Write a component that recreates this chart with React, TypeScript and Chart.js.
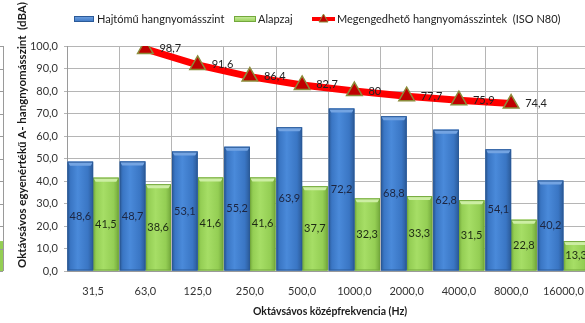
import React, { useEffect, useRef } from 'react';
import { Chart, registerables } from 'chart.js';

Chart.register(...registerables);

// Octave-band centre frequencies (Hz)
const frequencies = ['31,5', '63,0', '125,0', '250,0', '500,0', '1000,0', '2000,0', '4000,0', '8000,0', '16000,0'];
// Drive sound pressure level per band (dBA)
const driveLevels = [48.6, 48.7, 53.1, 55.2, 63.9, 72.2, 68.8, 62.8, 54.1, 40.2];
// Background noise per band (dBA)
const backgroundLevels = [41.5, 38.6, 41.6, 41.6, 37.7, 32.3, 33.3, 31.5, 22.8, 13.3];
// Permitted levels, ISO N80 curve (dBA)
const permittedLevels = [null, 98.7, 91.6, 86.4, 82.7, 80, 77.7, 75.9, 74.4, null];
// Edge of the neighbouring chart on the left
const neighbourBarValue = 13.3;

const Y_MIN = 0;
const Y_MAX = 100;
const Y_STEP = 10;

const seriesNames = ['Hajtómű hangnyomásszint', 'Alapzaj', 'Megengedhető hangnyomásszintek  (ISO N80)'];
const yTitle = 'Oktávsávos egyenértékű A- hangnyomásszint  (dBA)';
const xTitle = 'Oktávsávos középfrekvencia (Hz)';

const FONT = 'Lato, "Open Sans", sans-serif';

const BLUE = { edge: '#2b5a98', mid: '#3a76c4', light: '#4a8ada', top: '#74a4e2', text: '#1c2540' };
const GREEN = { edge: '#73a83c', mid: '#94ce54', light: '#a6de66', top: '#cdeea4', text: '#1e2a14' };

const fmt = (v: number) => String(v).replace('.', ',');

const barShading = {
  id: 'barShading',
  afterDatasetDraw(chart: any, args: any) {
    const meta = args.meta;
    if (meta.type !== 'bar') return;
    const pal = meta.index === 0 ? BLUE : GREEN;
    const ctx = chart.ctx as CanvasRenderingContext2D;
    ctx.save();
    meta.data.forEach((el: any) => {
      const { x, y, base, width } = el.getProps(['x', 'y', 'base', 'width'], true);
      const l = x - width / 2;
      const r = x + width / 2;
      const g = ctx.createLinearGradient(l, 0, r, 0);
      g.addColorStop(0, pal.edge);
      g.addColorStop(0.12, pal.mid);
      g.addColorStop(0.4, pal.light);
      g.addColorStop(0.8, pal.mid);
      g.addColorStop(1, pal.edge);
      ctx.fillStyle = g;
      ctx.fillRect(l, y, width, base - y);
      ctx.fillStyle = pal.top;
      ctx.beginPath();
      ctx.moveTo(l, y);
      ctx.lineTo(r, y);
      ctx.lineTo(r - 2.5, y + 4);
      ctx.lineTo(l + 2.5, y + 4);
      ctx.closePath();
      ctx.fill();
      ctx.strokeStyle = pal.edge;
      ctx.lineWidth = 1;
      ctx.strokeRect(l + 0.5, y + 0.5, width - 1, base - y - 1);
    });
    ctx.restore();
  },
};

const valueLabels = {
  id: 'valueLabels',
  afterDatasetsDraw(chart: any) {
    const ctx = chart.ctx as CanvasRenderingContext2D;
    ctx.save();
    ctx.font = `11px ${FONT}`;
    chart.data.datasets.forEach((ds: any, di: number) => {
      const meta = chart.getDatasetMeta(di);
      meta.data.forEach((el: any, i: number) => {
        const v = ds.data[i];
        if (v == null) return;
        if (meta.type === 'bar') {
          const { x, y, base } = el.getProps(['x', 'y', 'base'], true);
          ctx.fillStyle = di === 0 ? BLUE.text : GREEN.text;
          ctx.textAlign = 'center';
          ctx.textBaseline = 'middle';
          ctx.fillText(fmt(v), x, (y + base) / 2);
        } else {
          const { x, y } = el.getProps(['x', 'y'], true);
          ctx.fillStyle = '#222222';
          ctx.textAlign = 'left';
          ctx.textBaseline = 'middle';
          ctx.fillText(fmt(v), x + 14, y);
        }
      });
    });
    ctx.restore();
  },
};

const decorations = {
  id: 'decorations',
  afterDraw(chart: any) {
    const ctx = chart.ctx as CanvasRenderingContext2D;
    const area = chart.chartArea;
    const yScale = chart.scales.y;
    ctx.save();

    // neighbouring chart edge
    ctx.fillStyle = GREEN.mid;
    const gTop = yScale.getPixelForValue(neighbourBarValue);
    ctx.fillRect(0, gTop, 3, area.bottom - gTop);
    ctx.strokeStyle = '#9a9a9a';
    ctx.lineWidth = 1;
    ctx.beginPath();
    ctx.moveTo(3.5, area.top);
    ctx.lineTo(3.5, area.bottom);
    for (let v = Y_MIN; v <= Y_MAX; v += Y_STEP) {
      const py = Math.round(yScale.getPixelForValue(v)) + 0.5;
      ctx.moveTo(0, py);
      ctx.lineTo(3, py);
    }
    ctx.stroke();

    // axis titles
    ctx.fillStyle = '#1a1a1a';
    ctx.font = `bold 10.5px ${FONT}`;
    ctx.textAlign = 'center';
    ctx.textBaseline = 'middle';
    ctx.fillText(xTitle, 330, 312);

    ctx.save();
    ctx.translate(22, 268);
    ctx.rotate(-Math.PI / 2);
    ctx.font = `bold 11.5px ${FONT}`;
    ctx.textAlign = 'left';
    ctx.textBaseline = 'middle';
    ctx.fillText(yTitle, 0, 0);
    ctx.restore();

    // legend
    const ly = 19;
    ctx.font = `11px ${FONT}`;
    ctx.textAlign = 'left';
    ctx.textBaseline = 'middle';
    const swatch = (x: number, w: number, pal: typeof BLUE) => {
      const g = ctx.createLinearGradient(0, ly - 3, 0, ly + 3);
      g.addColorStop(0, pal.top);
      g.addColorStop(1, pal.mid);
      ctx.fillStyle = g;
      ctx.fillRect(x, ly - 3, w, 6);
      ctx.strokeStyle = pal.edge;
      ctx.strokeRect(x + 0.5, ly - 2.5, w - 1, 5);
    };
    swatch(74, 20, BLUE);
    ctx.fillStyle = '#222222';
    ctx.fillText(seriesNames[0], 97, ly);
    swatch(234, 22, GREEN);
    ctx.fillStyle = '#222222';
    ctx.fillText(seriesNames[1], 258, ly);

    ctx.strokeStyle = '#ff0000';
    ctx.lineWidth = 4;
    ctx.beginPath();
    ctx.moveTo(312, ly);
    ctx.lineTo(335, ly);
    ctx.stroke();
    ctx.fillStyle = '#c00000';
    ctx.strokeStyle = '#8b8b3a';
    ctx.lineWidth = 1;
    ctx.beginPath();
    ctx.moveTo(323.5, ly - 5);
    ctx.lineTo(328, ly + 3);
    ctx.lineTo(319, ly + 3);
    ctx.closePath();
    ctx.fill();
    ctx.stroke();
    ctx.fillStyle = '#222222';
    ctx.fillText(seriesNames[2], 337, ly);

    ctx.restore();
  },
};

export default function App() {
  const canvasRef = useRef<HTMLCanvasElement | null>(null);

  useEffect(() => {
    const canvas = canvasRef.current;
    if (!canvas) return;
    const chart = new Chart(canvas, {
      type: 'bar',
      data: {
        labels: frequencies,
        datasets: [
          {
            type: 'bar',
            label: seriesNames[0],
            data: driveLevels,
            backgroundColor: BLUE.mid,
            borderWidth: 0,
            categoryPercentage: 0.98,
            barPercentage: 1,
            order: 1,
          },
          {
            type: 'bar',
            label: seriesNames[1],
            data: backgroundLevels,
            backgroundColor: GREEN.mid,
            borderWidth: 0,
            categoryPercentage: 0.98,
            barPercentage: 1,
            order: 1,
          },
          {
            type: 'line',
            label: seriesNames[2],
            data: permittedLevels as any,
            borderColor: '#ff0000',
            borderWidth: 7,
            tension: 0,
            pointStyle: 'triangle',
            pointRadius: 9,
            pointBackgroundColor: '#c00000',
            pointBorderColor: '#8b8b3a',
            pointBorderWidth: 1.5,
            order: 0,
          },
        ],
      } as any,
      options: {
        responsive: false,
        animation: false,
        devicePixelRatio: 1,
        layout: { padding: { left: 0, top: 46, right: 7, bottom: 0 } },
        plugins: {
          legend: { display: false },
          title: { display: false },
          tooltip: { enabled: false },
        },
        scales: {
          x: {
            grid: { color: '#b5b5b5', offset: true, drawTicks: false },
            border: { color: '#9a9a9a' },
            ticks: {
              color: '#333333',
              font: { family: FONT, size: 11 },
              padding: 14,
              maxRotation: 0,
              autoSkip: false,
            },
            afterFit: (s: any) => {
              s.height = 52;
            },
          },
          y: {
            min: Y_MIN,
            max: Y_MAX,
            grid: { color: '#b5b5b5', tickLength: 3 },
            border: { color: '#9a9a9a' },
            ticks: {
              stepSize: Y_STEP,
              color: '#333333',
              font: { family: FONT, size: 11 },
              padding: 6,
              callback: (v: any) => Number(v).toFixed(1).replace('.', ','),
            },
            afterFit: (s: any) => {
              s.width = 67;
            },
          },
        },
      } as any,
      plugins: [barShading, valueLabels, decorations],
    });
    return () => chart.destroy();
  }, []);

  return (
    <div style={{ position: 'fixed', left: 0, top: 0, width: 585, height: 323, overflow: 'hidden', background: '#ffffff' }}>
      <canvas ref={canvasRef} width={600} height={323} style={{ display: 'block' }} />
    </div>
  );
}
